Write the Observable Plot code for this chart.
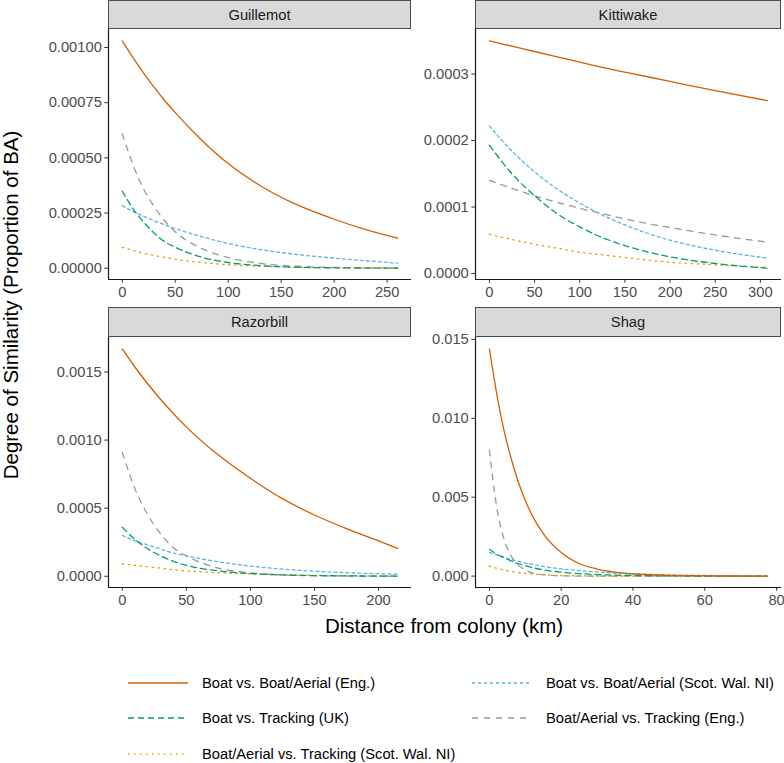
<!DOCTYPE html>
<html>
<head>
<meta charset="utf-8">
<script src="https://cdn.jsdelivr.net/npm/d3@7"></script>
<script src="https://cdn.jsdelivr.net/npm/@observablehq/plot@0.6"></script>
<style>
  body { margin: 0; background: #fff; }
  #chart { position: relative; width: 784px; height: 763px; font-family: "Liberation Sans", Arial, sans-serif; overflow: hidden; }
  .panel { position: absolute; }
  .panel svg text { fill: #4D4D4D; }
  .strip { position: absolute; box-sizing: border-box; background: #D9D9D9; border: 1px solid #4D4D4D;
           font-size: 14.7px; color: #1A1A1A; display: flex; align-items: center; justify-content: center; }
  .title { position: absolute; font-size: 20.5px; color: #000; white-space: nowrap; }
  .leg { position: absolute; font-size: 14.7px; color: #000; white-space: nowrap; display: flex; align-items: center; }
  .leg svg { margin-right: 14px; }
</style>
</head>
<body>
<div id="chart"></div>
<script>
// ---------- series (legend order) ----------
const seriesLabels = [
  "Boat vs. Boat/Aerial (Eng.)",
  "Boat vs. Tracking (UK)",
  "Boat/Aerial vs. Tracking (Scot. Wal. NI)",
  "Boat vs. Boat/Aerial (Scot. Wal. NI)",
  "Boat/Aerial vs. Tracking (Eng.)"
];
const seriesColors = ["#D55E00", "#009E73", "#E69F00", "#56B4E9", "#999999"];
const seriesDash = ["none", "6,4", "1.5,4.5", "3,3", "6,6"];

// ---------- Guillemot ----------
const guilDist   = [0, 10, 20, 30, 40, 50, 75, 100, 130, 160, 200, 230, 260];
const guilBoatEng   = [0.00103, 0.000955, 0.000885, 0.00082, 0.00076, 0.000705, 0.00058, 0.000474, 0.000375, 0.000298, 0.000222, 0.000175, 0.000136];
const guilTrackUK   = [0.00035, 0.00027, 0.00021, 0.00016, 0.00012, 0.000095, 0.00005, 0.000026, 0.000012, 0.000005, 0.000002, 0.000001, 0.0000005];
const guilBATrackSc = [0.000095, 0.000081, 0.000068, 0.000058, 0.000049, 0.000041, 0.000026, 0.000016, 0.000009, 0.000005, 0.000002, 0.000001, 0.0000007];
const guilBoatSc    = [0.000283, 0.000258, 0.000236, 0.000215, 0.000197, 0.00018, 0.000143, 0.000112, 0.000085, 0.000065, 0.000046, 0.000034, 0.000023];
const guilBATrackEng= [0.00061, 0.00047, 0.00036, 0.00028, 0.000215, 0.000165, 0.00009, 0.000048, 0.000022, 0.00001, 0.000004, 0.000002, 0.000001];
const guilXTicks = [0, 50, 100, 150, 200, 250];
const guilYTicks = [0, 0.00025, 0.0005, 0.00075, 0.001];

// ---------- Kittiwake ----------
const kittDist = [0, 25, 50, 75, 100, 125, 150, 200, 250, 308];
const kittBoatEng   = [0.00035, 0.000342, 0.000334, 0.000326, 0.000318, 0.00031, 0.000303, 0.000289, 0.000275, 0.00026];
const kittTrackUK   = [0.000193, 0.00015, 0.000117, 0.00009, 0.00007, 0.000054, 0.000042, 0.000025, 0.000015, 0.000008];
const kittBATrackSc = [0.000059, 0.000051, 0.000044, 0.000038, 0.000032, 0.000028, 0.000024, 0.000017, 0.000013, 0.000009];
const kittBoatSc    = [0.000222, 0.000184, 0.000153, 0.000127, 0.000106, 0.000088, 0.000073, 0.00005, 0.000035, 0.000023];
const kittBATrackEng= [0.00014, 0.000128, 0.000117, 0.000107, 0.000098, 0.00009, 0.000082, 0.000069, 0.000058, 0.000047];
const kittXTicks = [0, 50, 100, 150, 200, 250, 300];
const kittYTicks = [0, 0.0001, 0.0002, 0.0003];

// ---------- Razorbill ----------
const razoDist = [0, 10, 20, 30, 40, 50, 75, 100, 125, 150, 175, 200, 215];
const razoBoatEng   = [0.00167, 0.001535, 0.001412, 0.001298, 0.001193, 0.001097, 0.00089, 0.00072, 0.00057, 0.00045, 0.00035, 0.00026, 0.000205];
const razoTrackUK   = [0.00036, 0.00027, 0.0002, 0.00015, 0.00011, 0.00008, 0.00004, 0.00002, 0.00001, 0.000005, 0.000003, 0.000001, 0.000001];
const razoBATrackSc = [0.000092, 0.00008, 0.00007, 0.00006, 0.000048, 0.00004, 0.000026, 0.000017, 0.000011, 0.000007, 0.000004, 0.000003, 0.000002];
const razoBoatSc    = [0.0003, 0.00026, 0.00023, 0.0002, 0.00017, 0.00015, 0.000106, 0.000075, 0.000053, 0.000037, 0.000026, 0.000019, 0.000015];
const razoBATrackEng= [0.00091, 0.00064, 0.00045, 0.00031, 0.00021, 0.00015, 0.00006, 0.000025, 0.00001, 0.000004, 0.000002, 0.000001, 0.000001];
const razoXTicks = [0, 50, 100, 150, 200];
const razoYTicks = [0, 0.0005, 0.001, 0.0015];

// ---------- Shag ----------
const shagDist = [0, 2, 4, 6, 8, 10, 12, 15, 20, 25, 30, 40, 50, 60, 77.5];
const shagBoatEng   = [0.0144, 0.0116, 0.0093, 0.0075, 0.006, 0.0048, 0.0038, 0.0027, 0.0015, 0.0008, 0.00045, 0.00015, 0.00005, 0.00002, 0.000002];
const shagTrackUK   = [0.0017, 0.0014, 0.00118, 0.00097, 0.0008, 0.00065, 0.00054, 0.0004, 0.00025, 0.00016, 0.0001, 0.00004, 0.000016, 0.000006, 0.000001];
const shagBATrackSc = [0.00065, 0.0005, 0.0004, 0.0003, 0.00023, 0.00018, 0.00014, 0.00009, 0.00004, 0.00002, 0.00001, 0.000003, 0.000001, 0, 0];
const shagBoatSc    = [0.0015, 0.00134, 0.0012, 0.00106, 0.00094, 0.00083, 0.00074, 0.00062, 0.00046, 0.00035, 0.00026, 0.00014, 0.00008, 0.000045, 0.000017];
const shagBATrackEng= [0.008, 0.0044, 0.0024, 0.0013, 0.0007, 0.0004, 0.0002, 0.00009, 0.00002, 0.000005, 0.000001, 0, 0, 0, 0];
const shagXTicks = [0, 20, 40, 60, 80];
const shagYTicks = [0, 0.005, 0.01, 0.015];

const panels = [
  {name: "Guillemot", dist: guilDist, series: [guilBoatEng, guilTrackUK, guilBATrackSc, guilBoatSc, guilBATrackEng], xTicks: guilXTicks, yTicks: guilYTicks, fmt: ".5f"},
  {name: "Kittiwake", dist: kittDist, series: [kittBoatEng, kittTrackUK, kittBATrackSc, kittBoatSc, kittBATrackEng], xTicks: kittXTicks, yTicks: kittYTicks, fmt: ".4f"},
  {name: "Razorbill", dist: razoDist, series: [razoBoatEng, razoTrackUK, razoBATrackSc, razoBoatSc, razoBATrackEng], xTicks: razoXTicks, yTicks: razoYTicks, fmt: ".4f"},
  {name: "Shag", dist: shagDist, series: [shagBoatEng, shagTrackUK, shagBATrackSc, shagBoatSc, shagBATrackEng], xTicks: shagXTicks, yTicks: shagYTicks, fmt: ".3f"}
];

// layout (pixels)
const colLayout = [
  {svgLeft: 0, svgWidth: 415, marginLeft: 108, marginRight: 4},
  {svgLeft: 415, svgWidth: 369, marginLeft: 60, marginRight: 3}
];
const rowLayout = [
  {stripTop: 0, stripH: 29, svgTop: 25},
  {stripTop: 307, stripH: 30, svgTop: 333}
];
const plotH = 250, mTop = 4, mBottom = 28;

const chart = document.getElementById("chart");

function expand(values) {
  const lo = d3.min(values), hi = d3.max(values), pad = (hi - lo) * 0.05;
  return [lo - pad, hi + pad];
}

panels.forEach((p, i) => {
  const col = colLayout[i % 2], row = rowLayout[Math.floor(i / 2)];
  const xDom = expand(p.dist);
  const yDom = expand(p.series.flat());
  const lines = p.series.map((vals, s) => Plot.line(vals, {
    x: p.dist, y: vals, stroke: seriesColors[s], strokeWidth: 1.3,
    strokeDasharray: seriesDash[s] === "none" ? undefined : seriesDash[s],
    curve: "monotone-x"
  }));
  const svg = Plot.plot({
    width: col.svgWidth,
    height: mTop + plotH + mBottom,
    marginTop: mTop, marginBottom: mBottom,
    marginLeft: col.marginLeft, marginRight: col.marginRight,
    style: {fontFamily: '"Liberation Sans", Arial, sans-serif', fontSize: "14.7px", color: "#333", background: "transparent", overflow: "visible"},
    x: {domain: xDom, ticks: p.xTicks, tickSize: 3.7, tickPadding: 3, label: null, tickFormat: d3.format("d")},
    y: {domain: yDom, ticks: p.yTicks, tickSize: 3.7, tickPadding: 3, label: null, tickFormat: d3.format(p.fmt)},
    marks: [
      ...lines.reverse(),
      Plot.ruleX([xDom[0]], {stroke: "#1A1A1A", strokeWidth: 1.2}),
      Plot.ruleY([yDom[0]], {stroke: "#1A1A1A", strokeWidth: 1.2})
    ]
  });
  const holder = document.createElement("div");
  holder.className = "panel";
  holder.style.left = col.svgLeft + "px";
  holder.style.top = row.svgTop + "px";
  holder.appendChild(svg);
  chart.appendChild(holder);

  const strip = document.createElement("div");
  strip.className = "strip";
  const plotLeft = col.svgLeft + col.marginLeft;
  const plotRight = col.svgLeft + col.svgWidth - col.marginRight;
  strip.style.left = plotLeft + "px";
  strip.style.width = (plotRight - plotLeft) + "px";
  strip.style.top = row.stripTop + "px";
  strip.style.height = row.stripH + "px";
  strip.textContent = p.name;
  chart.appendChild(strip);
});

// axis titles
const xt = document.createElement("div");
xt.className = "title";
xt.textContent = "Distance from colony (km)";
xt.style.left = "444px"; xt.style.top = "626px";
xt.style.transform = "translate(-50%, -50%)";
chart.appendChild(xt);

const yt = document.createElement("div");
yt.className = "title";
yt.textContent = "Degree of Similarity (Proportion of BA)";
yt.style.left = "11px"; yt.style.top = "305px";
yt.style.transform = "translate(-50%, -50%) rotate(-90deg)";
chart.appendChild(yt);

// legend (2 columns, column-major)
const legPos = [
  {x: 128, y: 683}, {x: 128, y: 718}, {x: 128, y: 754},
  {x: 472, y: 683}, {x: 472, y: 718}
];
seriesLabels.forEach((lab, s) => {
  const d = document.createElement("div");
  d.className = "leg";
  d.style.left = legPos[s].x + "px";
  d.style.top = (legPos[s].y - 10) + "px";
  d.style.height = "20px";
  const dash = seriesDash[s] === "none" ? "" : `stroke-dasharray="${seriesDash[s]}"`;
  d.innerHTML = `<svg width="60" height="20"><line x1="0" x2="60" y1="10" y2="10" stroke="${seriesColors[s]}" stroke-width="1.3" ${dash}/></svg><span>${lab}</span>`;
  chart.appendChild(d);
});
</script>
</body>
</html>
